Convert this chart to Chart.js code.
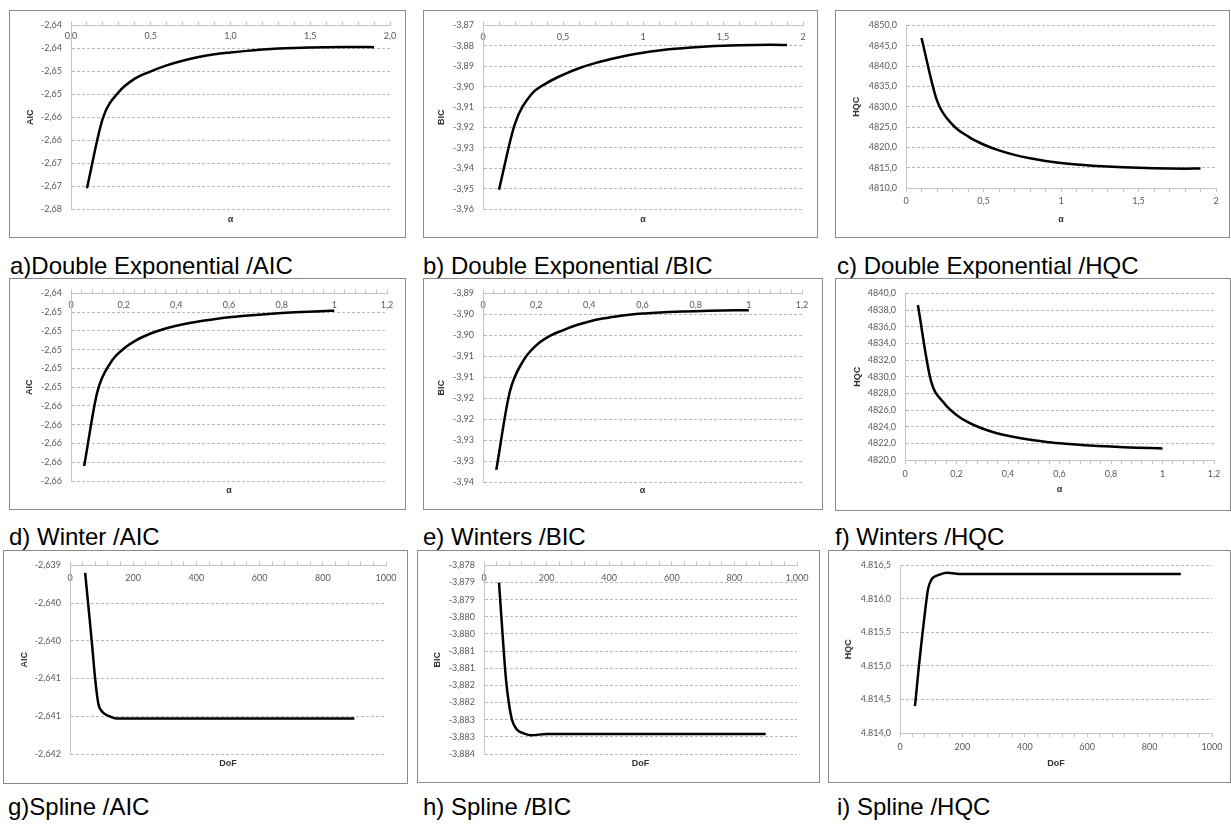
<!DOCTYPE html>
<html><head><meta charset="utf-8">
<script src="https://cdn.jsdelivr.net/npm/chart.js@4.4.1/dist/chart.umd.min.js"></script>
<style>
html,body{margin:0;padding:0;background:#fff;}
body{width:1231px;height:825px;position:relative;overflow:hidden;font-family:"Liberation Sans",Arial,sans-serif;}
.box{position:absolute;border:1px solid #8a8a8a;background:#fff;box-sizing:border-box;}
.box canvas{position:absolute;left:0;top:0;}
.cap{position:absolute;font-family:"Liberation Sans",Arial,sans-serif;font-size:24px;line-height:26px;color:#000;white-space:nowrap;}
</style></head><body>
<script>
// ---------- DATA ----------
const alphaDE = [0.1,0.2,0.3,0.4,0.5,0.6,0.7,0.8,0.9,1.0,1.1,1.2,1.3,1.4,1.5,1.6,1.7,1.8,1.9];
const aicDE = [-2.6755,-2.6602,-2.6545,-2.6516,-2.6500,-2.6487,-2.6477,-2.6469,-2.6463,-2.6459,-2.64555,-2.64527,-2.64505,-2.6449,-2.6448,-2.64474,-2.6447,-2.64468,-2.64475];
const bicDE = [-3.9506,-3.9181,-3.9040,-3.8982,-3.8942,-3.8910,-3.8885,-3.8865,-3.8848,-3.8834,-3.8823,-3.88145,-3.8808,-3.8803,-3.87995,-3.87972,-3.87958,-3.87953,-3.87965];
const hqcDE = [4846.9,4831.5,4825.6,4822.7,4820.7,4819.25,4818.15,4817.3,4816.65,4816.15,4815.77,4815.48,4815.26,4815.09,4814.96,4814.86,4814.79,4814.76,4814.78];

const alphaW = [0.05,0.10,0.15,0.20,0.25,0.30,0.35,0.40,0.45,0.50,0.55,0.60,0.65,0.70,0.75,0.80,0.85,0.90,0.95,1.00];
const aicW = [-2.66240,-2.65450,-2.65140,-2.64990,-2.64895,-2.64830,-2.64782,-2.64745,-2.64716,-2.64692,-2.64672,-2.64655,-2.64641,-2.64629,-2.64619,-2.64610,-2.64602,-2.64595,-2.64589,-2.64584];
const bicW = [-3.93210,-3.91370,-3.90620,-3.90240,-3.90020,-3.89880,-3.89760,-3.89670,-3.89600,-3.89550,-3.89510,-3.89480,-3.89460,-3.89445,-3.89433,-3.89423,-3.89415,-3.89409,-3.89404,-3.89400];
const hqcW = [4838.60,4829.60,4826.90,4825.40,4824.45,4823.78,4823.28,4822.90,4822.60,4822.36,4822.17,4822.02,4821.89,4821.78,4821.69,4821.61,4821.54,4821.48,4821.43,4821.39];

const dofS = [48,60,70,80,90,100,110,125,150,200,300,400,500,600,700,800,900];
const aicS = [-2.63910,-2.63962,-2.64006,-2.64052,-2.64084,-2.64093,-2.64097,-2.64100,-2.64103,-2.64103,-2.64103,-2.64103,-2.64103,-2.64103,-2.64103,-2.64103,-2.64103];
const bicS = [-3.87850,-3.88010,-3.88130,-3.88205,-3.88252,-3.88272,-3.88283,-3.88289,-3.88295,-3.88292,-3.88292,-3.88292,-3.88292,-3.88292,-3.88292,-3.88292,-3.88292];
const hqcS = [4814.40,4814.97,4815.40,4815.80,4816.15,4816.28,4816.33,4816.36,4816.39,4816.37,4816.37,4816.37,4816.37,4816.37,4816.37,4816.37,4816.37];

// ---------- TICK LABELS (bottom -> top / left -> right) ----------
const aYLabels = ['-2,68','-2,67','-2,67','-2,66','-2,66','-2,65','-2,65','-2,64','-2,64'];
const bYLabels = ['-3,96','-3,95','-3,94','-3,93','-3,92','-3,91','-3,90','-3,89','-3,88','-3,87'];
const cYLabels = ['4810,0','4815,0','4820,0','4825,0','4830,0','4835,0','4840,0','4845,0','4850,0'];
const dYLabels = ['-2,66','-2,66','-2,66','-2,66','-2,66','-2,65','-2,65','-2,65','-2,65','-2,65','-2,64'];
const eYLabels = ['-3,94','-3,93','-3,93','-3,92','-3,92','-3,91','-3,91','-3,90','-3,90','-3,89'];
const fYLabels = ['4820,0','4822,0','4824,0','4826,0','4828,0','4830,0','4832,0','4834,0','4836,0','4838,0','4840,0'];
const gYLabels = ['-2,642','-2,641','-2,641','-2,640','-2,640','-2,639'];
const hYLabels = ['-3,884','-3,883','-3,883','-3,882','-3,882','-3,881','-3,881','-3,880','-3,880','-3,879','-3,879','-3,878'];
const iYLabels = ['4.814,0','4.814,5','4.815,0','4.815,5','4.816,0','4.816,5'];

const aXLabels = ['0,0','0,5','1,0','1,5','2,0'];
const bXLabels = ['0','0,5','1','1,5','2'];
const cXLabels = ['0','0,5','1','1,5','2'];
const wXLabels = ['0','0,2','0,4','0,6','0,8','1','1,2'];
const gXLabels = ['0','200','400','600','800','1000'];
const hXLabels = ['0','200','400','600','800','1.000'];
const iXLabels = ['0','200','400','600','800','1000'];

const captions = ['a)Double Exponential /AIC','b) Double Exponential /BIC','c) Double Exponential /HQC',
  'd) Winter /AIC','e) Winters /BIC','f) Winters /HQC','g)Spline /AIC','h) Spline /BIC','i) Spline /HQC'];

// ---------- PANEL SETUP ----------
const panels = [
  {x:alphaDE,y:aicDE,yT:'AIC',xT:'α',yMin:-2.68,yStep:0.005,yL:aYLabels,xMin:0,xMax:2,xMaj:0.5,xMin_:0.1,xL:aXLabels,top:true,
   box:[9,10,405,237],g:{left:61,right:380,top:8,bottom:198,yTitle:21,xTitle:209,xLab:11},cap:[10,274]},
  {x:alphaDE,y:bicDE,yT:'BIC',xT:'α',yMin:-3.96,yStep:0.01,yL:bYLabels,xMin:0,xMax:2,xMaj:0.5,xMin_:0.1,xL:bXLabels,top:true,
   box:[423,10,817,237],g:{left:59,right:379,top:8,bottom:198,yTitle:18,xTitle:209,xLab:12},cap:[423,274]},
  {x:alphaDE,y:hqcDE,yT:'HQC',xT:'α',yMin:4810,yStep:5,yL:cYLabels,xMin:0,xMax:2,xMaj:0.5,xMin_:0.1,xL:cXLabels,top:false,
   box:[835,10,1229,237],g:{left:70,right:380,top:7,bottom:177,yTitle:21,xTitle:209,xLab:13},cap:[837,274]},
  {x:alphaW,y:aicW,yT:'AIC',xT:'α',yMin:-2.664,yStep:0.002,yL:dYLabels,xMin:0,xMax:1.2,xMaj:0.2,xMin_:0.04,xL:wXLabels,top:true,
   box:[9,278,405,509],g:{left:61,right:377,top:12,bottom:202,yTitle:20,xTitle:212,xLab:12},cap:[9,545]},
  {x:alphaW,y:bicW,yT:'BIC',xT:'α',yMin:-3.935,yStep:0.005,yL:eYLabels,xMin:0,xMax:1.2,xMaj:0.2,xMin_:0.04,xL:wXLabels,top:true,
   box:[423,278,822,509],g:{left:59,right:378,top:12,bottom:203,yTitle:18,xTitle:212,xLab:12},cap:[423,545]},
  {x:alphaW,y:hqcW,yT:'HQC',xT:'α',yMin:4820,yStep:2,yL:fYLabels,xMin:0,xMax:1.2,xMaj:0.2,xMin_:0.04,xL:wXLabels,top:false,
   box:[835,278,1230,510],g:{left:69,right:378,top:12,bottom:181,yTitle:22,xTitle:211,xLab:14},cap:[835,545]},
  {x:dofS,y:aicS,yT:'AIC',xT:'DoF',yMin:-2.6415,yStep:0.0005,yL:gYLabels,xMin:0,xMax:1000,xMaj:200,xMin_:40,xL:gXLabels,top:true,
   box:[3,550,407,783],g:{left:66,right:382,top:12,bottom:203,yTitle:21,xTitle:213,xLab:13},cap:[8,815]},
  {x:dofS,y:bicS,yT:'BIC',xT:'DoF',yMin:-3.8835,yStep:0.0005,yL:hYLabels,xMin:0,xMax:1000,xMaj:200,xMin_:40,xL:hXLabels,top:true,
   box:[417,550,819,782],g:{left:66,right:379,top:12,bottom:203,yTitle:20,xTitle:213,xLab:13},cap:[423,815]},
  {x:dofS,y:hqcS,yT:'HQC',xT:'DoF',yMin:4814,yStep:0.5,yL:iYLabels,xMin:0,xMax:1000,xMaj:200,xMin_:40,xL:iXLabels,top:false,
   box:[828,550,1230,782],g:{left:71,right:383,top:12,bottom:182,yTitle:20,xTitle:213,xLab:14},cap:[837,815]}
];

const AX = '#c4c4c4', GRID = '#b8b8b8', TC = '#595959', TTC = '#333333';
const TF = {family:'Lato, "Open Sans", sans-serif', size:9};
const BF = {family:'"Liberation Sans", Arial, sans-serif', size:9, weight:'bold'};
const LH = 9 * 1.2;

panels.forEach((p, k) => {
  const outerW = p.box[2] - p.box[0] + 1, outerH = p.box[3] - p.box[1] + 1;
  const W = outerW - 2, H = outerH - 2;
  const div = document.createElement('div');
  div.className = 'box';
  div.style.left = p.box[0] + 'px'; div.style.top = p.box[1] + 'px';
  div.style.width = outerW + 'px'; div.style.height = outerH + 'px';
  const cv = document.createElement('canvas');
  cv.width = W; cv.height = H; cv.style.width = W + 'px'; cv.style.height = H + 'px';
  div.appendChild(cv);
  document.body.appendChild(div);

  const cap = document.createElement('div');
  cap.className = 'cap';
  cap.textContent = captions[k];
  cap.style.left = p.cap[0] + 'px';
  cap.style.top = (p.cap[1] - 21) + 'px';
  document.body.appendChild(cap);

  const g = p.g;
  const yTickVals = p.yL.map((_, i) => p.yMin + i * p.yStep);
  const nMinor = Math.round((p.xMax - p.xMin) / p.xMin_);
  const ratio = Math.round(p.xMaj / p.xMin_);
  const xTickVals = [];
  for (let i = 0; i <= nMinor; i++) xTickVals.push(p.xMin + i * p.xMin_);

  const scales = {
    x: {
      type: 'linear', position: p.top ? 'top' : 'bottom', min: p.xMin, max: p.xMax,
      afterFit: s => { s.height = p.top ? g.top : H - g.bottom; },
      afterBuildTicks: s => { s.ticks = xTickVals.map(v => ({value: v})); },
      grid: {display: true, drawOnChartArea: false, drawTicks: true, tickLength: 4, tickColor: AX, tickWidth: 1},
      border: {display: true, color: AX, width: 1},
      ticks: {autoSkip: false, maxRotation: 0, minRotation: 0, mirror: p.top,
        padding: p.top ? g.xLab - LH / 2 : g.xLab - 4 - LH / 2,
        font: TF, color: TC,
        callback: (v, i) => (i % ratio === 0 ? p.xL[i / ratio] : '')},
      title: p.top ? {display: false} :
        {display: true, text: p.xT, font: BF, color: TTC, padding: {top: 0, bottom: H - g.xTitle - LH / 2}}
    },
    y: {
      type: 'linear', position: 'left', min: yTickVals[0], max: yTickVals[yTickVals.length - 1],
      afterFit: s => { s.width = g.left; },
      afterBuildTicks: s => { s.ticks = yTickVals.map(v => ({value: v})); },
      grid: {display: true, drawOnChartArea: true, drawTicks: false, tickLength: 0, color: GRID, lineWidth: 1},
      border: {display: true, color: AX, width: 1, dash: [3, 2]},
      ticks: {autoSkip: false, padding: 9, font: TF, color: TC, callback: (v, i) => p.yL[i]},
      title: {display: true, text: p.yT, font: BF, color: TTC, padding: {top: g.yTitle - LH / 2, bottom: 0}}
    }
  };
  if (p.top) {
    scales.x2 = {
      type: 'linear', position: 'bottom', min: 0, max: 1,
      afterFit: s => { s.height = H - g.bottom; },
      grid: {display: false}, border: {display: false}, ticks: {display: false},
      title: {display: true, text: p.xT, font: BF, color: TTC, padding: {top: 0, bottom: H - g.xTitle - LH / 2}}
    };
  }

  new Chart(cv, {
    type: 'line',
    data: {
      datasets: [{
        data: p.x.map((xv, i) => ({x: xv, y: p.y[i]})),
        borderColor: '#000', borderWidth: 2.5, pointRadius: 0,
        cubicInterpolationMode: 'monotone', fill: false
      }]
    },
    options: {
      responsive: false, animation: false, devicePixelRatio: 1,
      layout: {padding: {left: 0, top: p.top ? 0 : g.top, right: W - g.right, bottom: 0}},
      plugins: {legend: {display: false}, tooltip: {enabled: false}},
      scales: scales
    }
  });
});
</script>
</body></html>
